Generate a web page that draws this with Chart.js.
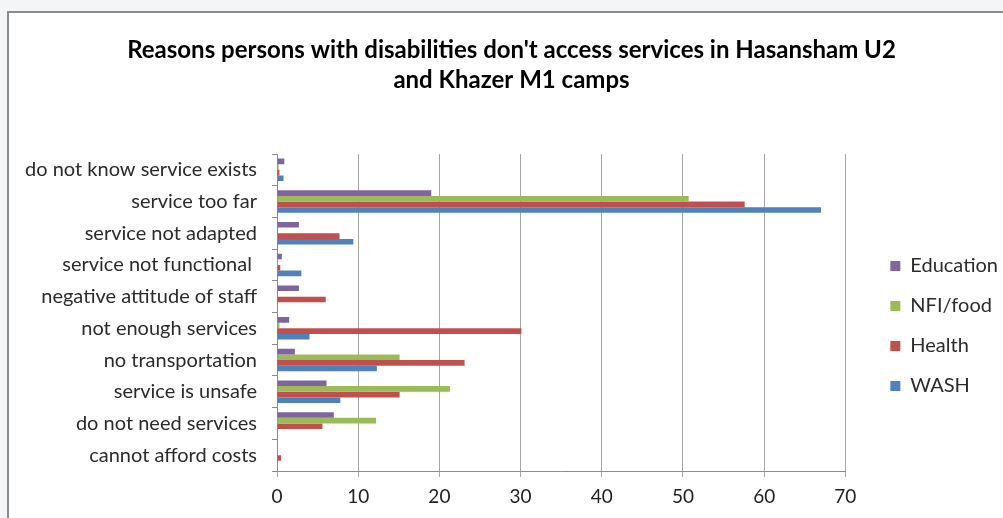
<!DOCTYPE html>
<html lang="en">
<head>
  <meta charset="UTF-8" />
  <title>Reasons persons with disabilities don't access services</title>
  <script src="https://cdn.jsdelivr.net/npm/chart.js"></script>
  <style>
    body {
      margin: 0;
      background: #f4f5f7;
      overflow: hidden;
    }
    #frame {
      position: absolute;
      left: 7px;
      top: 11px;
      width: 1010px;
      height: 520px;
      background: #fff;
      border-left: 2px solid #8c8c8c;
      border-top: 2px solid #8c8c8c;
    }
    #chart {
      position: absolute;
      left: 0;
      top: 0;
    }
  </style>
</head>
<body>
  <div id="frame"></div>
  <canvas id="chart" width="1003" height="518"></canvas>

  <script>
    // reasons, top to bottom
    const categories = [
      'do not know service exists',
      'service too far',
      'service not adapted',
      'service not functional ',
      'negative attitude of staff',
      'not enough services',
      'no transportation',
      'service is unsafe',
      'do not need services',
      'cannot afford costs'
    ];
    const education = [0.9, 19.0, 2.7, 0.6, 2.7, 1.5, 2.2, 6.1, 7.0, 0];
    const nfiFood   = [0.2, 50.7, 0, 0.1, 0, 0.3, 15.1, 21.3, 12.2, 0];
    const health    = [0.3, 57.6, 7.7, 0.4, 6.0, 30.1, 23.1, 15.1, 5.6, 0.5];
    const wash      = [0.8, 67.0, 9.4, 3.0, 0, 4.0, 12.3, 7.8, 0, 0];
    const xTicks    = [0, 10, 20, 30, 40, 50, 60, 70];

    const FONT = 'Lato, "Open Sans", sans-serif';

    // legend sits next to the plot, title is centred a bit right of the canvas middle
    const placeBoxes = {
      id: 'placeBoxes',
      afterLayout(chart) {
        const lg = chart.legend;
        const area = chart.chartArea;
        const w = lg.width, h = lg.height;
        lg.left = area.right + 25;
        lg.top = area.top + 82;
        lg.right = lg.left + w;
        lg.bottom = lg.top + h;

        const tb = chart.titleBlock;
        tb.left += 20;
        tb.right += 20;
      }
    };

    new Chart(document.getElementById('chart').getContext('2d'), {
      type: 'bar',
      data: {
        labels: categories,
        datasets: [
          { label: 'Education', data: education, backgroundColor: '#8064a2' },
          { label: 'NFI/food', data: nfiFood, backgroundColor: '#9bbb59' },
          { label: 'Health', data: health, backgroundColor: '#c0504d' },
          { label: 'WASH', data: wash, backgroundColor: '#4f81bd' }
        ]
      },
      options: {
        indexAxis: 'y',
        responsive: false,
        animation: false,
        categoryPercentage: 0.71,
        barPercentage: 1.0,
        layout: { padding: { left: 0, right: 20, top: 0, bottom: 0 } },
        scales: {
          x: {
            min: 0,
            max: 70,
            afterBuildTicks: s => { s.ticks = xTicks.map(v => ({ value: v })); },
            afterFit: s => { s.height = 47; },
            grid: { color: '#a6a6a6', tickLength: 6 },
            border: { color: '#8c8c8c' },
            ticks: { color: '#222', padding: 8, font: { family: FONT, size: 19 } }
          },
          y: {
            afterFit: s => { s.width = 277; },
            grid: { drawOnChartArea: false, tickLength: 5, color: '#8c8c8c', offset: true },
            border: { color: '#8c8c8c' },
            ticks: { color: '#2b2b2b', padding: 15, font: { family: FONT, size: 20 } }
          }
        },
        plugins: {
          title: {
            display: true,
            text: [
              "Reasons persons with disabilities don't access services in Hasansham U2",
              'and Khazer M1 camps'
            ],
            color: '#000',
            font: { family: FONT, size: 24, weight: 'bold', lineHeight: 1.25 },
            padding: { top: 35, bottom: 59 }
          },
          legend: {
            position: 'right',
            align: 'start',
            labels: {
              color: '#2b2b2b',
              boxWidth: 10,
              boxHeight: 10,
              padding: 20,
              font: { family: FONT, size: 20 }
            }
          },
          tooltip: { enabled: false }
        }
      },
      plugins: [placeBoxes]
    });
  </script>
</body>
</html>
